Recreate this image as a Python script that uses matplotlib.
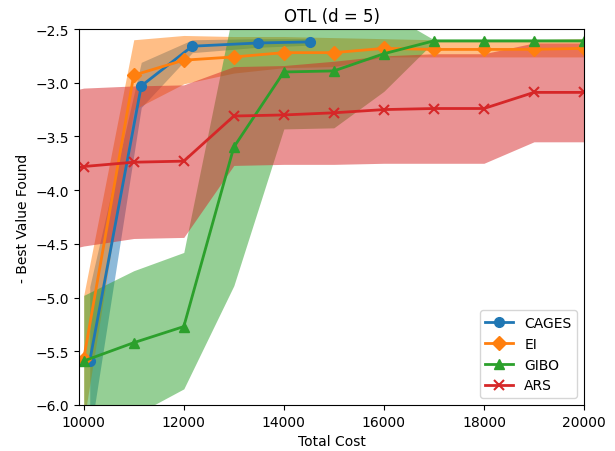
import matplotlib
matplotlib.use("Agg")
import matplotlib.pyplot as plt
import numpy as np

# CAGES
cages_x = [10120, 11150, 12170, 13490, 14530]
cages_y = [-5.59, -3.03, -2.66, -2.63, -2.62]
cages_lo = [-6.30, -3.23, -2.72, -2.67, -2.65]
cages_hi = [-4.90, -2.81, -2.60, -2.59, -2.59]

# EI
ei_x = [10000, 11000, 12000, 13000, 14000, 15000, 16000, 17000, 18000, 19000, 20000]
ei_y = [-5.57, -2.93, -2.79, -2.76, -2.72, -2.72, -2.68, -2.69, -2.69, -2.69, -2.68]
ei_lo = [-6.16, -3.25, -3.01, -2.91, -2.86, -2.85, -2.76, -2.76, -2.76, -2.76, -2.76]
ei_hi = [-4.98, -2.60, -2.56, -2.57, -2.57, -2.58, -2.59, -2.60, -2.60, -2.60, -2.59]

# GIBO
gibo_x = [10000, 11000, 12000, 13000, 14000, 15000, 16000, 17000, 18000, 19000, 20000]
gibo_y = [-5.59, -5.42, -5.27, -3.60, -2.90, -2.89, -2.73, -2.61, -2.61, -2.61, -2.61]
gibo_lo = [-6.20, -6.10, -5.85, -4.89, -3.43, -3.42, -3.08, -2.62, -2.62, -2.62, -2.62]
gibo_hi = [-4.98, -4.75, -4.58, -2.30, -2.37, -2.36, -2.33, -2.60, -2.60, -2.60, -2.60]

# ARS
ars_x = [9906, 10000, 11000, 12000, 13000, 14000, 15000, 16000, 17000, 18000, 19000, 20000]
ars_y = [-3.79, -3.78, -3.74, -3.73, -3.31, -3.30, -3.28, -3.25, -3.24, -3.24, -3.09, -3.09]
ars_lo = [-4.53, -4.52, -4.45, -4.44, -3.77, -3.76, -3.76, -3.75, -3.75, -3.75, -3.55, -3.55]
ars_hi = [-3.06, -3.05, -3.03, -3.02, -2.85, -2.84, -2.80, -2.75, -2.73, -2.73, -2.63, -2.63]

fig = plt.figure(figsize=(6.15, 4.52), dpi=100)
ax = fig.add_axes([0.1285, 0.1018, 0.8211, 0.8318])

c = plt.rcParams['axes.prop_cycle'].by_key()['color']
lw = 2.0
ms = 7

ax.plot(cages_x, cages_y, marker='o', color=c[0], lw=lw, ms=ms, label='CAGES')
ax.fill_between(cages_x, cages_lo, cages_hi, color=c[0], alpha=0.5, lw=0)

ax.plot(ei_x, ei_y, marker='D', color=c[1], lw=lw, ms=ms, label='EI')
ax.fill_between(ei_x, ei_lo, ei_hi, color=c[1], alpha=0.5, lw=0)

ax.plot(gibo_x, gibo_y, marker='^', color=c[2], lw=lw, ms=ms, label='GIBO')
ax.fill_between(gibo_x, gibo_lo, gibo_hi, color=c[2], alpha=0.5, lw=0)

ax.plot(ars_x, ars_y, marker='x', color=c[3], lw=lw, ms=ms, mew=1.5,
        markevery=list(range(1, len(ars_x))), label='ARS')
ax.fill_between(ars_x, ars_lo, ars_hi, color=c[3], alpha=0.5, lw=0)

ax.set_xlim(9906, 20000)
ax.set_ylim(-6.0, -2.5)
ax.set_xticks([10000, 12000, 14000, 16000, 18000, 20000])
ax.set_title('OTL (d = 5)')
ax.set_xlabel('Total Cost')
ax.set_ylabel('- Best Value Found')
ax.legend(loc='lower right')

fig.savefig('out.png', dpi=100)
